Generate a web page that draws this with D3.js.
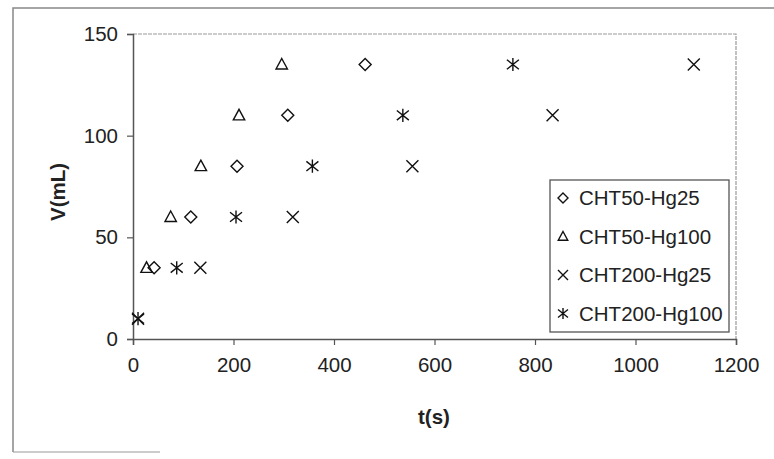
<!DOCTYPE html>
<html>
<head>
<meta charset="utf-8">
<script src="https://cdn.jsdelivr.net/npm/d3@7"></script>
<style>
  body { margin: 0; background: #fff; }
  text { font-family: "Liberation Sans", Arial, sans-serif; fill: #222; }
</style>
</head>
<body>
<svg id="chart" width="774" height="459"></svg>
<script>
// series names and values
var seriesNames = ['CHT50-Hg25', 'CHT50-Hg100', 'CHT200-Hg25', 'CHT200-Hg100'];
var seriesSymbols = ['diamond', 'triangle', 'cross', 'star'];

var cht50Hg25 = [[42, 35], [115, 60], [207, 85], [308, 110], [462, 135]];
var cht50Hg100 = [[27, 35], [75, 60], [135, 85], [211, 110], [296, 135]];
var cht200Hg25 = [[10, 10], [134, 35], [318, 60], [556, 85], [835, 110], [1116, 135]];
var cht200Hg100 = [[10, 10], [87, 35], [205, 60], [357, 85], [537, 110], [756, 135]];

var xTicks = [0, 200, 400, 600, 800, 1000, 1200];
var yTicks = [0, 50, 100, 150];

var allSeries = [cht50Hg25, cht50Hg100, cht200Hg25, cht200Hg100];

var svg = d3.select('#chart');

// outer chart frame (only top/left/bottom-left visible in the scan)
svg.append('path')
  .attr('d', 'M13,452 L13,8 L774,8')
  .attr('fill', 'none')
  .attr('stroke', '#888')
  .attr('stroke-width', 1.5);
svg.append('line')
  .attr('x1', 13).attr('x2', 160)
  .attr('y1', 452).attr('y2', 452)
  .attr('stroke', '#999').attr('stroke-width', 1.2);

var x = d3.scaleLinear().domain([0, 1200]).range([133, 736]);
var y = d3.scaleLinear().domain([0, 150]).range([339, 34]);

// plot area top and right borders
svg.append('path')
  .attr('d', 'M' + x(0) + ',' + y(150) + ' L' + x(1200) + ',' + y(150) + ' L' + x(1200) + ',' + y(0))
  .attr('fill', 'none')
  .attr('stroke', '#999')
  .attr('stroke-width', 1.2)
  .attr('stroke-dasharray', '4,1');

// axes
var xAxis = svg.append('g')
  .attr('transform', 'translate(0,' + y(0) + ')')
  .call(d3.axisBottom(x).tickValues(xTicks).tickFormat(d3.format('d')).tickSize(6).tickPadding(12));
var yAxis = svg.append('g')
  .attr('transform', 'translate(' + x(0) + ',0)')
  .call(d3.axisLeft(y).tickValues(yTicks).tickFormat(d3.format('d')).tickSize(6).tickPadding(9));

[xAxis, yAxis].forEach(function (ax) {
  ax.select('.domain').attr('stroke', '#555').attr('stroke-width', 1.5);
  ax.selectAll('.tick line').attr('stroke', '#555').attr('stroke-width', 1.2);
  ax.selectAll('.tick text')
    .attr('font-size', 20.5)
    .attr('font-family', '"Liberation Sans", Arial, sans-serif')
    .attr('fill', '#222');
});

// axis titles
svg.append('text')
  .attr('x', 434).attr('y', 424)
  .attr('text-anchor', 'middle')
  .attr('font-size', 20.5).attr('font-weight', 'bold')
  .text('t(s)');
svg.append('text')
  .attr('transform', 'translate(65,192) rotate(-90)')
  .attr('text-anchor', 'middle')
  .attr('font-size', 20.5).attr('font-weight', 'bold')
  .text('V(mL)');

// marker shapes drawn as paths centred on 0,0
function markerPath(kind, s) {
  if (kind === 'diamond') {
    return 'M0,' + (-s) + ' L' + s + ',0 L0,' + s + ' L' + (-s) + ',0 Z';
  }
  if (kind === 'triangle') {
    return 'M0,' + (-s) + ' L' + (s * 0.95) + ',' + (s * 0.75) + ' L' + (-s * 0.95) + ',' + (s * 0.75) + ' Z';
  }
  if (kind === 'cross') {
    return 'M' + (-s) + ',' + (-s) + ' L' + s + ',' + s + ' M' + (-s) + ',' + s + ' L' + s + ',' + (-s);
  }
  // star: cross plus vertical bar
  return 'M' + (-s) + ',' + (-s * 0.8) + ' L' + s + ',' + (s * 0.8) +
    ' M' + (-s) + ',' + (s * 0.8) + ' L' + s + ',' + (-s * 0.8) +
    ' M0,' + (-s * 1.1) + ' L0,' + (s * 1.1);
}

var gPoints = svg.append('g').attr('class', 'points');
allSeries.forEach(function (data, i) {
  gPoints.selectAll('.s' + i)
    .data(data)
    .enter()
    .append('path')
    .attr('class', 's' + i)
    .attr('transform', function (d) { return 'translate(' + x(d[0]) + ',' + y(d[1]) + ')'; })
    .attr('d', markerPath(seriesSymbols[i], 6))
    .attr('fill', 'none')
    .attr('stroke', '#111')
    .attr('stroke-width', 1.4);
});

// legend
var legend = svg.append('g').attr('transform', 'translate(550,180)');
legend.append('rect')
  .attr('width', 179).attr('height', 152)
  .attr('fill', '#fff')
  .attr('stroke', '#555')
  .attr('stroke-width', 1.3);
seriesNames.forEach(function (name, i) {
  var row = legend.append('g').attr('transform', 'translate(0,' + (18 + i * 38.5) + ')');
  row.append('path')
    .attr('transform', 'translate(13,0)')
    .attr('d', markerPath(seriesSymbols[i], 5))
    .attr('fill', 'none')
    .attr('stroke', '#111')
    .attr('stroke-width', 1.4);
  row.append('text')
    .attr('x', 29).attr('y', 7)
    .attr('font-size', 20.5)
    .text(name);
});
</script>
</body>
</html>
